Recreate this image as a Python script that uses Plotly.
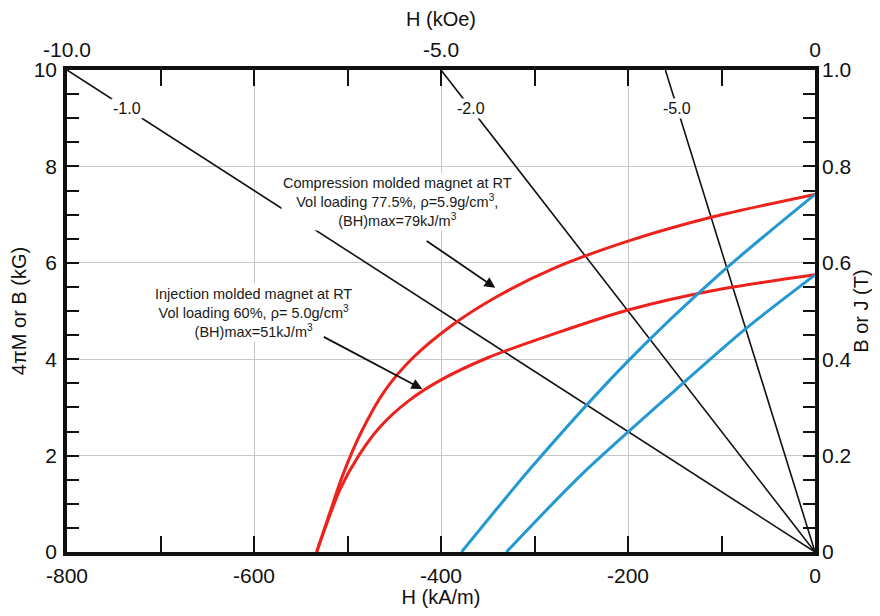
import plotly.graph_objects as go

# ---- data ----
# Intrinsic (4πM) curves, H in kA/m, value in kG
H_comp_J = [-533, -520, -505, -485, -460, -430, -390, -340, -280, -200, -110, 0]
J_comp = [0, 0.75, 1.6, 2.5, 3.35, 4.03, 4.68, 5.3, 5.88, 6.45, 6.95, 7.42]

H_inj_J = [-533, -522, -508, -488, -465, -435, -400, -350, -280, -200, -110, 0]
J_inj = [0, 0.6, 1.3, 2.0, 2.6, 3.13, 3.57, 4.03, 4.52, 5.02, 5.42, 5.75]

# Normal (B) curves
H_comp_B = [-378, -300, -200, -100, 0]
B_comp = [0, 1.83, 3.96, 5.8, 7.42]

H_inj_B = [-330, -250, -150, -75, 0]
B_inj = [0, 1.6, 3.35, 4.62, 5.75]

# Permeance (load) lines: slope B(kG)/H(kOe)
perm_coeff = [-1.0, -2.0, -5.0]
perm_labels = ["-1.0", "-2.0", "-5.0"]
perm_label_B = [9.2, 9.2, 9.2]

KA_PER_KOE = 80.0
B_TOP = 10.0

x_ticks = [-800, -600, -400, -200, 0]
x_tick_text = ["-800", "-600", "-400", "-200", "0"]
x_top_ticks = [-10.0, -5.0, 0]
x_top_text = ["-10.0", "-5.0", "0"]
y_ticks = [0, 2, 4, 6, 8, 10]
y_tick_text = ["0", "2", "4", "6", "8", "10"]
y2_ticks = [0, 0.2, 0.4, 0.6, 0.8, 1.0]
y2_text = ["0", "0.2", "0.4", "0.6", "0.8", "1.0"]

RED = "#ee221c"
BLUE = "#2398d2"
FONT = "Liberation Sans, Arial"

fig = go.Figure()

# permeance lines
for p in perm_coeff:
    h_end = B_TOP / p * KA_PER_KOE
    fig.add_trace(go.Scatter(x=[0, h_end], y=[0, B_TOP], mode="lines",
                             line=dict(color="#111111", width=1.6),
                             showlegend=False, hoverinfo="skip"))

for hx, by, col in [(H_comp_J, J_comp, RED), (H_inj_J, J_inj, RED),
                    (H_comp_B, B_comp, BLUE), (H_inj_B, B_inj, BLUE)]:
    fig.add_trace(go.Scatter(x=hx, y=by, mode="lines",
                             line=dict(color=col, width=3, shape="spline", smoothing=0.8),
                             showlegend=False, hoverinfo="skip"))

# invisible traces to anchor secondary axes
fig.add_trace(go.Scatter(x=[-10, 0], y=[0, 0], xaxis="x2", yaxis="y", mode="markers",
                         marker=dict(opacity=0), showlegend=False, hoverinfo="skip"))
fig.add_trace(go.Scatter(x=[-800, 0], y=[0, 1], xaxis="x", yaxis="y2", mode="markers",
                         marker=dict(opacity=0), showlegend=False, hoverinfo="skip"))

# labels on permeance lines
for p, lab, b in zip(perm_coeff, perm_labels, perm_label_B):
    fig.add_annotation(x=b / p * KA_PER_KOE, y=b, text=lab, showarrow=False,
                       bgcolor="white", font=dict(size=16, color="#111111", family=FONT),
                       borderpad=1)

# text annotations
fig.add_annotation(x=-446, y=7.26, showarrow=False, bgcolor="white",
                   text="Compression molded magnet at RT<br>Vol loading 77.5%, ρ=5.9g/cm<sup>3</sup>,<br>(BH)max=79kJ/m<sup>3</sup>",
                   font=dict(size=14.5, color="#1a1a1a", family=FONT), align="center")
fig.add_annotation(x=-601, y=4.96, showarrow=False, bgcolor="white",
                   text="Injection molded magnet at RT<br>Vol loading 60%, ρ= 5.0g/cm<sup>3</sup><br>(BH)max=51kJ/m<sup>3</sup>",
                   font=dict(size=14.5, color="#1a1a1a", family=FONT), align="center")
# arrows
fig.add_annotation(x=-342, y=5.48, text="", showarrow=True, axref="pixel", ayref="pixel",
                   ax=-70, ay=-48, arrowhead=2, arrowsize=1.2, arrowwidth=1.8, arrowcolor="#111111")
fig.add_annotation(x=-420, y=3.38, text="", showarrow=True, axref="pixel", ayref="pixel",
                   ax=-100, ay=-53, arrowhead=2, arrowsize=1.2, arrowwidth=1.8, arrowcolor="#111111")

tickfont = dict(size=21, color="#111111", family=FONT)
titlefont = dict(size=20, color="#111111", family=FONT)

fig.update_layout(
    width=864, height=600,
    margin=dict(l=59, r=57, t=62, b=56),
    paper_bgcolor="white", plot_bgcolor="white",
    xaxis=dict(range=[-800, 0], tickvals=x_ticks, ticktext=x_tick_text, ticks="inside",
               ticklen=16, tickwidth=1.5,
               tickcolor="#111111", showgrid=True, gridcolor="#c8c8c8", gridwidth=1,
               showline=True, linewidth=3.5, linecolor="#111111", mirror="allticks",
               zeroline=False, tickfont=tickfont, ticklabelstandoff=2, automargin=False,
               minor=dict(dtick=100, tick0=0, ticks="inside", ticklen=10, tickcolor="#111111",
                          showgrid=False),
               title=dict(text="H (kA/m)", font=titlefont, standoff=10)),
    xaxis2=dict(range=[-10, 0], overlaying="x", side="top", tickvals=x_top_ticks,
                ticktext=x_top_text, ticks="", showgrid=False, zeroline=False,
                showline=False, tickfont=tickfont, ticklabelstandoff=8, automargin=False,
                title=dict(text="H (kOe)", font=titlefont, standoff=12)),
    yaxis=dict(range=[0, 10], tickvals=y_ticks, ticktext=y_tick_text, ticks="inside",
               ticklen=12, tickwidth=1.5,
               tickcolor="#111111", showgrid=True, gridcolor="#c8c8c8", gridwidth=1,
               showline=True, linewidth=3.5, linecolor="#111111", mirror="allticks",
               zeroline=False, tickfont=tickfont, ticklabelstandoff=2, automargin=False,
               minor=dict(dtick=0.5, tick0=0, ticks="inside", ticklen=10, tickcolor="#111111",
                          showgrid=False),
               title=dict(text="4πM or B (kG)", font=titlefont, standoff=4)),
    yaxis2=dict(range=[0, 1.0], overlaying="y", side="right", tickvals=y2_ticks,
                ticktext=y2_text, ticks="", showgrid=False, zeroline=False, showline=False,
                tickfont=tickfont, ticklabelstandoff=6, automargin=False,
                title=dict(text="B or J (T)", font=titlefont, standoff=8)),
)

fig.write_html("out.html")
